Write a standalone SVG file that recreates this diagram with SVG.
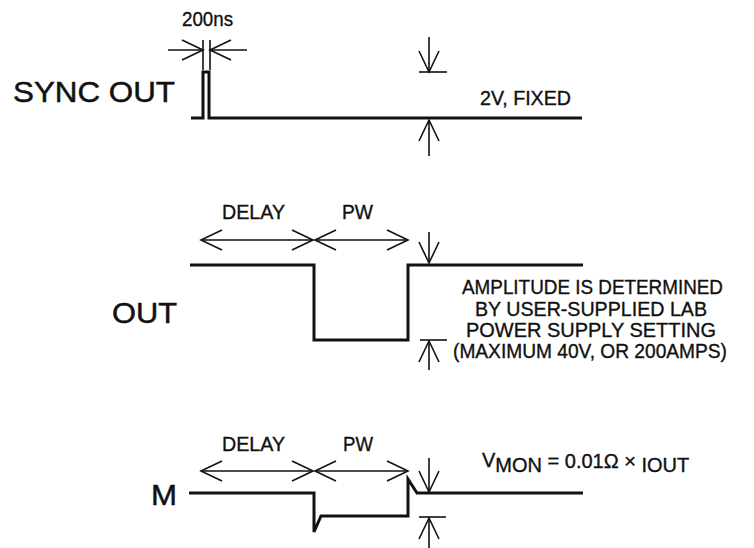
<svg xmlns="http://www.w3.org/2000/svg" width="754" height="548" viewBox="0 0 754 548">
<style>
text{font-family:"Liberation Sans",Arial,Helvetica,sans-serif;fill:#111;stroke:#111;stroke-width:0.35}
.s{font-size:20px}
.l{font-size:30px;stroke-width:0.5}
.sig{fill:none;stroke:#111;stroke-width:3;stroke-linejoin:miter}
.dim{fill:none;stroke:#111;stroke-width:1.6}
.arr{fill:none;stroke:#111;stroke-width:1.6;marker-end:url(#ah)}
.arr2{fill:none;stroke:#111;stroke-width:1.6;marker-start:url(#ah);marker-end:url(#ah)}
</style>
<defs>
<marker id="ah" viewBox="0 0 22 22" refX="21" refY="11" markerWidth="22" markerHeight="22" markerUnits="userSpaceOnUse" orient="auto-start-reverse" overflow="visible">
<path d="M0,1 L21,11 L0,21" fill="none" stroke="#111" stroke-width="1.6"/>
</marker>
</defs>
<rect width="754" height="548" fill="#fff"/>

<g id="sync">
<text class="l" x="13" y="102" textLength="162" lengthAdjust="spacingAndGlyphs">SYNC OUT</text>
<path class="sig" d="M191,118 H203 V72 H209 V118 H582" stroke-width="2.6"/>
<text class="s" x="182" y="26" textLength="51" lengthAdjust="spacingAndGlyphs">200ns</text>
<text class="s" x="480" y="105" textLength="91" lengthAdjust="spacingAndGlyphs">2V, FIXED</text>
</g>

<g id="out">
<text class="l" x="112" y="323" textLength="65" lengthAdjust="spacingAndGlyphs">OUT</text>
<path class="sig" d="M190,265 H314 V340 H408 V265 H583"/>
<text class="s" x="222" y="219" textLength="63" lengthAdjust="spacingAndGlyphs">DELAY</text>
<text class="s" x="342" y="219" textLength="31" lengthAdjust="spacingAndGlyphs">PW</text>
<text class="s" x="462" y="294" textLength="261" lengthAdjust="spacingAndGlyphs">AMPLITUDE IS DETERMINED</text>
<text class="s" x="475" y="316" textLength="232" lengthAdjust="spacingAndGlyphs">BY USER-SUPPLIED LAB</text>
<text class="s" x="466" y="337" textLength="250" lengthAdjust="spacingAndGlyphs">POWER SUPPLY SETTING</text>
<text class="s" x="453" y="358" textLength="274" lengthAdjust="spacingAndGlyphs">(MAXIMUM 40V, OR 200AMPS)</text>
</g>

<g id="mon">
<text class="l" x="151" y="505" textLength="26" lengthAdjust="spacingAndGlyphs">M</text>
<path class="sig" d="M189,493 H314 V532 L321,516 H408 V479 L417,493 H583"/>
<text class="s" x="222" y="451" textLength="63" lengthAdjust="spacingAndGlyphs">DELAY</text>
<text class="s" x="343" y="451" textLength="30" lengthAdjust="spacingAndGlyphs">PW</text>
<text class="s" x="482" y="467">V<tspan dy="5">MON</tspan><tspan dy="-4"> = 0.01Ω × </tspan><tspan dy="4">IOUT</tspan></text>
</g>

<g id="connectors">
<path class="dim" d="M203,40 V70 M210,40 V70"/>
<path class="arr" d="M168,50 H203"/>
<path class="arr" d="M247,50 H210"/>
<path class="arr" d="M429,37 V72"/>
<path class="dim" d="M419,72 H447"/>
<path class="arr" d="M429,156 V120"/>
<path class="arr2" d="M201,240 H313"/>
<path class="arr2" d="M315,240 H408"/>
<path class="arr" d="M429,232 V263"/>
<path class="arr" d="M429,370 V341"/>
<path class="dim" d="M420,340 H447"/>
<path class="arr2" d="M201,471 H313"/>
<path class="arr2" d="M315,471 H408"/>
<path class="arr" d="M429,458 V492"/>
<path class="arr" d="M429,548 V518"/>
<path class="dim" d="M419,517 H446"/>
</g>
</svg>
